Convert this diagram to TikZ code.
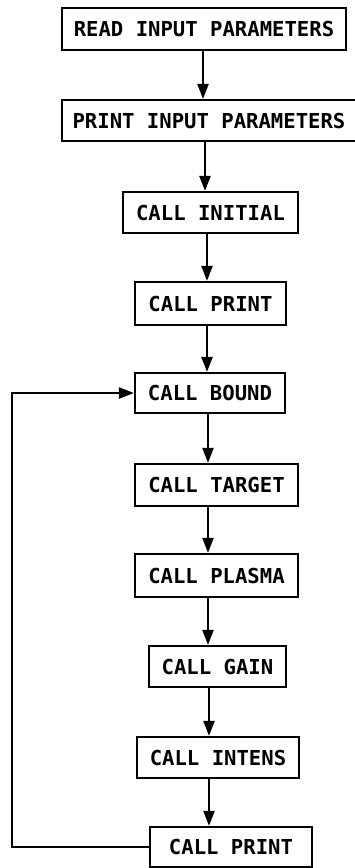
\documentclass[tikz,border=0pt]{standalone}
\usepackage{fontspec}
\newfontfamily\boxfont{DejaVu Sans Mono}
\usetikzlibrary{arrows.meta}
\begin{document}
\begin{tikzpicture}[x=1pt,y=-1pt,
  stepbox/.style={draw,line width=2.2pt,inner sep=0pt,font=\boxfont\bfseries\fontsize{20.6}{22}\selectfont},
  arr/.style={line width=2.3pt,-{Triangle[length=15pt,width=11pt]}}]
\useasboundingbox (0,0) rectangle (355,868);
\node[stepbox,minimum width=284pt,minimum height=42pt] (b1) at (204,29) {READ INPUT PARAMETERS};
\node[stepbox,minimum width=294pt,minimum height=41pt] (b2) at (209,120.5) {PRINT INPUT PARAMETERS};
\node[stepbox,minimum width=175pt,minimum height=41pt] (b3) at (210.5,212.5) {CALL INITIAL};
\node[stepbox,minimum width=151pt,minimum height=43pt] (b4) at (210.5,303.5) {CALL PRINT};
\node[stepbox,minimum width=150pt,minimum height=40pt] (b5) at (210,393) {CALL BOUND};
\node[stepbox,minimum width=163pt,minimum height=42pt] (b6) at (216.5,485) {CALL TARGET};
\node[stepbox,minimum width=163pt,minimum height=43pt] (b7) at (216.5,575.5) {CALL PLASMA};
\node[stepbox,minimum width=137pt,minimum height=41pt] (b8) at (217.5,666.5) {CALL GAIN};
\node[stepbox,minimum width=162pt,minimum height=41pt] (b9) at (218,757.5) {CALL INTENS};
\node[stepbox,minimum width=162pt,minimum height=40pt] (b10) at (231,847) {CALL PRINT};
\draw[arr] (203,0 |- b1.south) -- (203,0 |- b2.north);
\draw[arr] (205,0 |- b2.south) -- (205,0 |- b3.north);
\draw[arr] (207,0 |- b3.south) -- (207,0 |- b4.north);
\draw[arr] (207,0 |- b4.south) -- (207,0 |- b5.north);
\draw[arr] (208,0 |- b5.south) -- (208,0 |- b6.north);
\draw[arr] (208,0 |- b6.south) -- (208,0 |- b7.north);
\draw[arr] (208,0 |- b7.south) -- (208,0 |- b8.north);
\draw[arr] (209,0 |- b8.south) -- (209,0 |- b9.north);
\draw[arr] (209,0 |- b9.south) -- (209,0 |- b10.north);
\coordinate (lb) at (12,847);
\coordinate (lt) at (12,393);
\draw[arr] (b10.west) -- (lb) -- (lt) -- (b5.west);
\end{tikzpicture}
\end{document}
